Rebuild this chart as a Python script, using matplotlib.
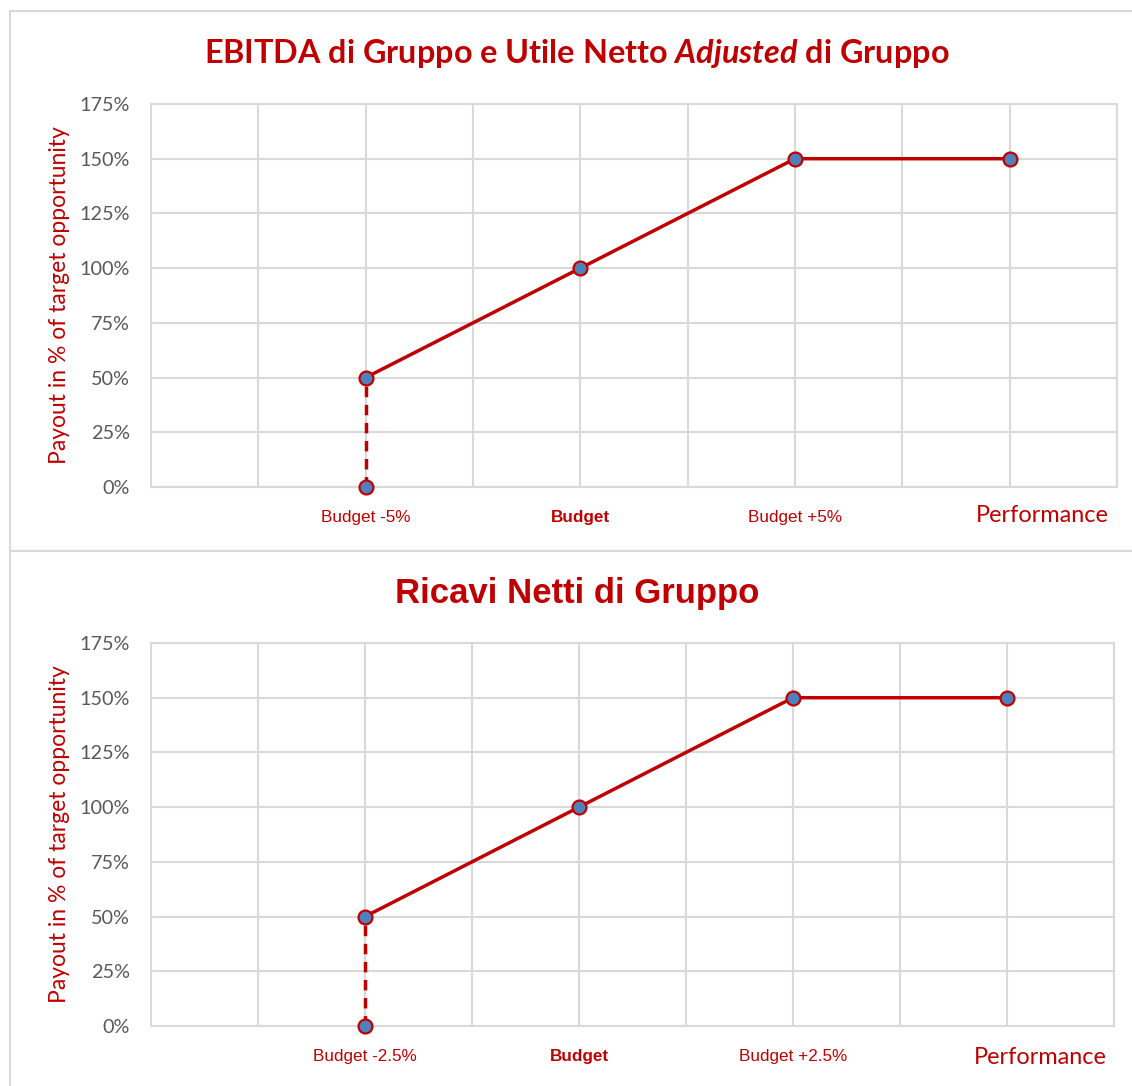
import matplotlib.pyplot as plt
from matplotlib.patches import Rectangle

plt.rcParams['mathtext.fontset'] = 'custom'
plt.rcParams['mathtext.it'] = 'Lato:italic:bold'
plt.rcParams['mathtext.rm'] = 'Lato:bold'

# Data
x_pos = [2, 4, 6, 8]
payout = [50, 100, 150, 150]
floor_x = [2, 2]
floor_y = [0, 50]
y_ticks = [0, 25, 50, 75, 100, 125, 150, 175]
labels_top = ['Budget -5%', 'Budget', 'Budget +5%']
labels_bottom = ['Budget -2.5%', 'Budget', 'Budget +2.5%']
titles = ['EBITDA di Gruppo e Utile Netto $\\mathit{Adjusted}$ di Gruppo',
          'Ricavi Netti di Gruppo']

RED = '#C00000'
BLUE = '#4F81BD'
GRID = '#D9D9D9'

fig = plt.figure(figsize=(11.32, 10.86), dpi=100)
fig.patch.set_facecolor('white')

# panel frames
fig.add_artist(Rectangle((10/1132, 1 - 551/1086), 1.2, 540/1086, transform=fig.transFigure,
                         fill=False, edgecolor=GRID, linewidth=1.5))
fig.add_artist(Rectangle((10/1132, -0.1), 1.2, 1 - 551/1086 + 0.1, transform=fig.transFigure,
                         fill=False, edgecolor=GRID, linewidth=1.5))

axes_rects = [
    [151/1132, 1 - 487/1086, (1117 - 151)/1132, 383/1086],
    [151/1132, 1 - 1026/1086, (1114 - 151)/1132, 383/1086],
]
title_y = [1 - 53/1086, 1 - 593/1086]
perf_y = [1 - 516/1086, 1 - 1057/1086]
perf_x = [1042/1132, 1040/1132]

for i, rect in enumerate(axes_rects):
    ax = fig.add_axes(rect)
    ax.set_xlim(0, 9)
    ax.set_ylim(0, 175)
    ax.set_xticks(range(10))
    ax.set_yticks(y_ticks)
    ax.grid(True, color=GRID, linewidth=1.5)
    ax.set_axisbelow(True)
    for s in ax.spines.values():
        s.set_color(GRID)
        s.set_linewidth(1.5)
    ax.tick_params(length=0)
    ax.set_xticklabels([])
    ax.set_yticklabels([f'{v}%' for v in y_ticks], fontfamily='Lato', fontsize=14.3,
                       color='#595959')
    ax.tick_params(axis='y', pad=15)

    labels = labels_top if i == 0 else labels_bottom
    for xv, lab in zip(x_pos[:3], labels):
        ax.text(xv, -10.5, lab, ha='center', va='top', fontfamily='Liberation Sans',
                fontsize=12.3, color=RED, fontweight='bold' if lab == 'Budget' else 'normal',
                clip_on=False)

    ax.plot(floor_x, floor_y, color=RED, linewidth=2.5, linestyle=(0, (3, 2.2)),
            zorder=3)
    ax.plot(x_pos, payout, color=RED, linewidth=2.5, zorder=3)
    ax.plot(x_pos + [2], payout + [0], linestyle='none', marker='o', markersize=10,
            markerfacecolor=BLUE, markeredgecolor=RED, markeredgewidth=1.6, zorder=4,
            clip_on=False)

    ax.set_ylabel('Payout in % of target opportunity', fontfamily='Lato', fontsize=16.5,
                  color=RED, labelpad=7)

    fig.text(perf_x[i], perf_y[i], 'Performance', ha='center', va='center',
             fontfamily='Lato', fontsize=16.9, color=RED)

fig.text(577/1132, title_y[0], titles[0], ha='center', va='center', fontfamily='Lato',
         fontsize=23.3, fontweight='bold', color=RED)
fig.text(577/1132, title_y[1], titles[1], ha='center', va='center',
         fontfamily='Liberation Sans', fontsize=25, fontweight='bold', color=RED)

fig.savefig('out.png', dpi=100, facecolor='white')
